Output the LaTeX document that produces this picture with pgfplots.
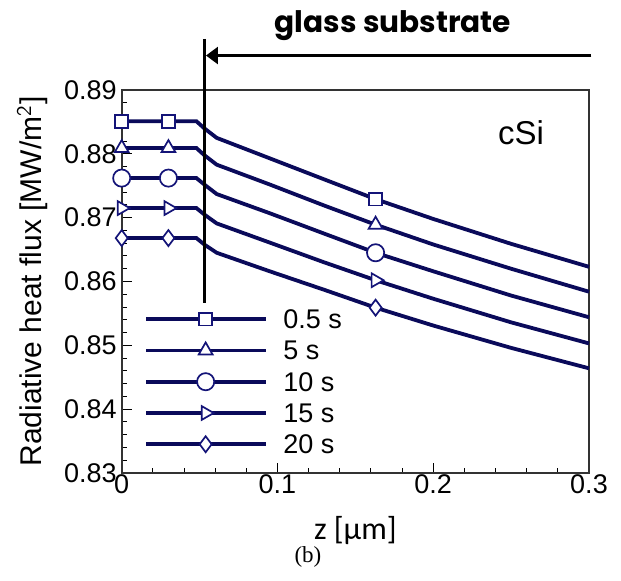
\documentclass[border=0pt]{standalone}
\usepackage{pgfplots}
\pgfplotsset{compat=1.18}
\usepackage{fontspec}
\setmainfont{Liberation Sans}
\newfontfamily\calfont{Carlito}
\newfontfamily\timesfont{Liberation Serif}
\newfontfamily\popfont{Poppins}
\usetikzlibrary{arrows.meta}
\definecolor{navy}{RGB}{10,10,90}
\definecolor{mk}{RGB}{20,20,120}
\tikzset{
  ser/.style={navy, line width=1.9pt},
  mko/.style={solid, fill=white, draw=mk, line width=0.85pt},
}
\begin{document}
\begin{tikzpicture}
\useasboundingbox (0,0) rectangle (310.5pt,290.5pt);
\begin{axis}[
  at={(60.85pt,54pt)}, anchor=south west,
  scale only axis, width=233.65pt, height=191.5pt,
  xmin=0, xmax=0.3, ymin=0.83, ymax=0.89,
  xtick={0,0.1,0.2,0.3},
  ytick={0.83,0.84,0.85,0.86,0.87,0.88,0.89},
  minor x tick num=4, minor y tick num=4,
  tick pos=left, tick align=inside,
  major tick length=5pt, minor tick length=2.5pt,
  every tick/.style={black, line width=0.5pt},
  axis line style={black!80, line width=0.8pt},
  /pgf/number format/assume math mode=true,
  ticklabel style={font=\fontsize{13.5}{15}\selectfont},
  yticklabel style={xshift=1pt, /pgf/number format/.cd, fixed, fixed zerofill, precision=2},
  xticklabel style={yshift=2.5pt},
  xlabel={\calfont z [μm]},
  xlabel style={at={(axis description cs:0.5,0)}, anchor=center, yshift=-29pt, font=\fontsize{16}{18}\selectfont},
  ylabel={Radiative heat flux [MW/m$^{\mathsf{2}}$]},
  ylabel style={at={(axis description cs:-0.191,0.5)}, anchor=center, font=\fontsize{15}{17}\selectfont},
  clip=false,
]
% 0.5 s
\addplot[ser, mark=square*, mark size=3.2pt, mark options={mko}, mark indices={1,2,8}] coordinates {
 (0,0.8851) (0.03,0.8851) (0.048,0.8851) (0.053,0.8840) (0.061,0.8825) (0.095,0.8793) (0.13,0.8760) (0.163,0.8729) (0.2,0.8698) (0.25,0.8659) (0.3,0.8623)};
% 5 s
\addplot[ser, mark=triangle*, mark size=4pt, mark options={mko}, mark indices={1,2,8}] coordinates {
 (0,0.8809) (0.03,0.8809) (0.048,0.8809) (0.053,0.8798) (0.061,0.8783) (0.095,0.8752) (0.13,0.8719) (0.163,0.8689) (0.2,0.8658) (0.25,0.8620) (0.3,0.8584)};
% 10 s
\addplot[ser, mark=*, mark size=4.3pt, mark options={mko}, mark indices={1,2,8}] coordinates {
 (0,0.8762) (0.03,0.8762) (0.048,0.8762) (0.053,0.8752) (0.061,0.8737) (0.095,0.8707) (0.13,0.8675) (0.163,0.8645) (0.2,0.8616) (0.25,0.8578) (0.3,0.8544)};
% 15 s
\addplot[ser, mark=triangle*, mark size=4pt, mark options={mko, rotate=-90}, mark indices={1,2,8}] coordinates {
 (0,0.8715) (0.03,0.8715) (0.048,0.8715) (0.053,0.8705) (0.061,0.8691) (0.095,0.8661) (0.13,0.8630) (0.163,0.8602) (0.2,0.8573) (0.25,0.8536) (0.3,0.8503)};
% 20 s
\addplot[ser, mark=diamond*, mark size=4pt, mark options={mko}, mark indices={1,2,8}] coordinates {
 (0,0.8668) (0.03,0.8668) (0.048,0.8668) (0.053,0.8658) (0.061,0.8645) (0.095,0.8616) (0.13,0.8587) (0.163,0.8559) (0.2,0.8531) (0.25,0.8496) (0.3,0.8464)};

% legend samples
\addplot[ser, mark=square*, mark size=3.2pt, mark options={mko}, mark indices={2}] coordinates {(0.0156,0.8541) (0.0539,0.8541) (0.0924,0.8541)};
\addplot[ser, mark=triangle*, mark size=4pt, mark options={mko}, mark indices={2}] coordinates {(0.0156,0.8492) (0.0539,0.8492) (0.0924,0.8492)};
\addplot[ser, mark=*, mark size=4.3pt, mark options={mko}, mark indices={2}] coordinates {(0.0156,0.8443) (0.0539,0.8443) (0.0924,0.8443)};
\addplot[ser, mark=triangle*, mark size=4pt, mark options={mko, rotate=-90}, mark indices={2}] coordinates {(0.0156,0.8394) (0.0539,0.8394) (0.0924,0.8394)};
\addplot[ser, mark=diamond*, mark size=4pt, mark options={mko}, mark indices={2}] coordinates {(0.0156,0.8345) (0.0539,0.8345) (0.0924,0.8345)};
\begin{scope}[every node/.style={anchor=west, inner sep=0pt, font=\fontsize{13.5}{15}\selectfont}]
\node at (axis cs:0.1035,0.8541) {0.5 s};
\node at (axis cs:0.1035,0.8492) {5 s};
\node at (axis cs:0.1035,0.8443) {10 s};
\node at (axis cs:0.1035,0.8394) {15 s};
\node at (axis cs:0.1035,0.8345) {20 s};
\end{scope}

\node[font=\fontsize{16.5}{18}\selectfont] at (axis cs:0.2563,0.8833) {cSi};
\draw[line width=1.4pt] (axis cs:0.053,0.8980) -- (axis cs:0.053,0.8567);
\draw[line width=1.3pt, -{Triangle[length=6pt,width=8.5pt]}] (axis cs:0.3015,0.8954) -- (axis cs:0.0541,0.8954);
\node[anchor=base, font=\popfont\bfseries\fontsize{14.8}{17}\selectfont] at (axis cs:0.1742,0.89898) {glass substrate};
\node[font=\timesfont\fontsize{11.5}{13}\selectfont, yshift=-42pt, xshift=-23.7pt] at (axis description cs:0.5,0) {(b)};
\end{axis}
\end{tikzpicture}
\end{document}
